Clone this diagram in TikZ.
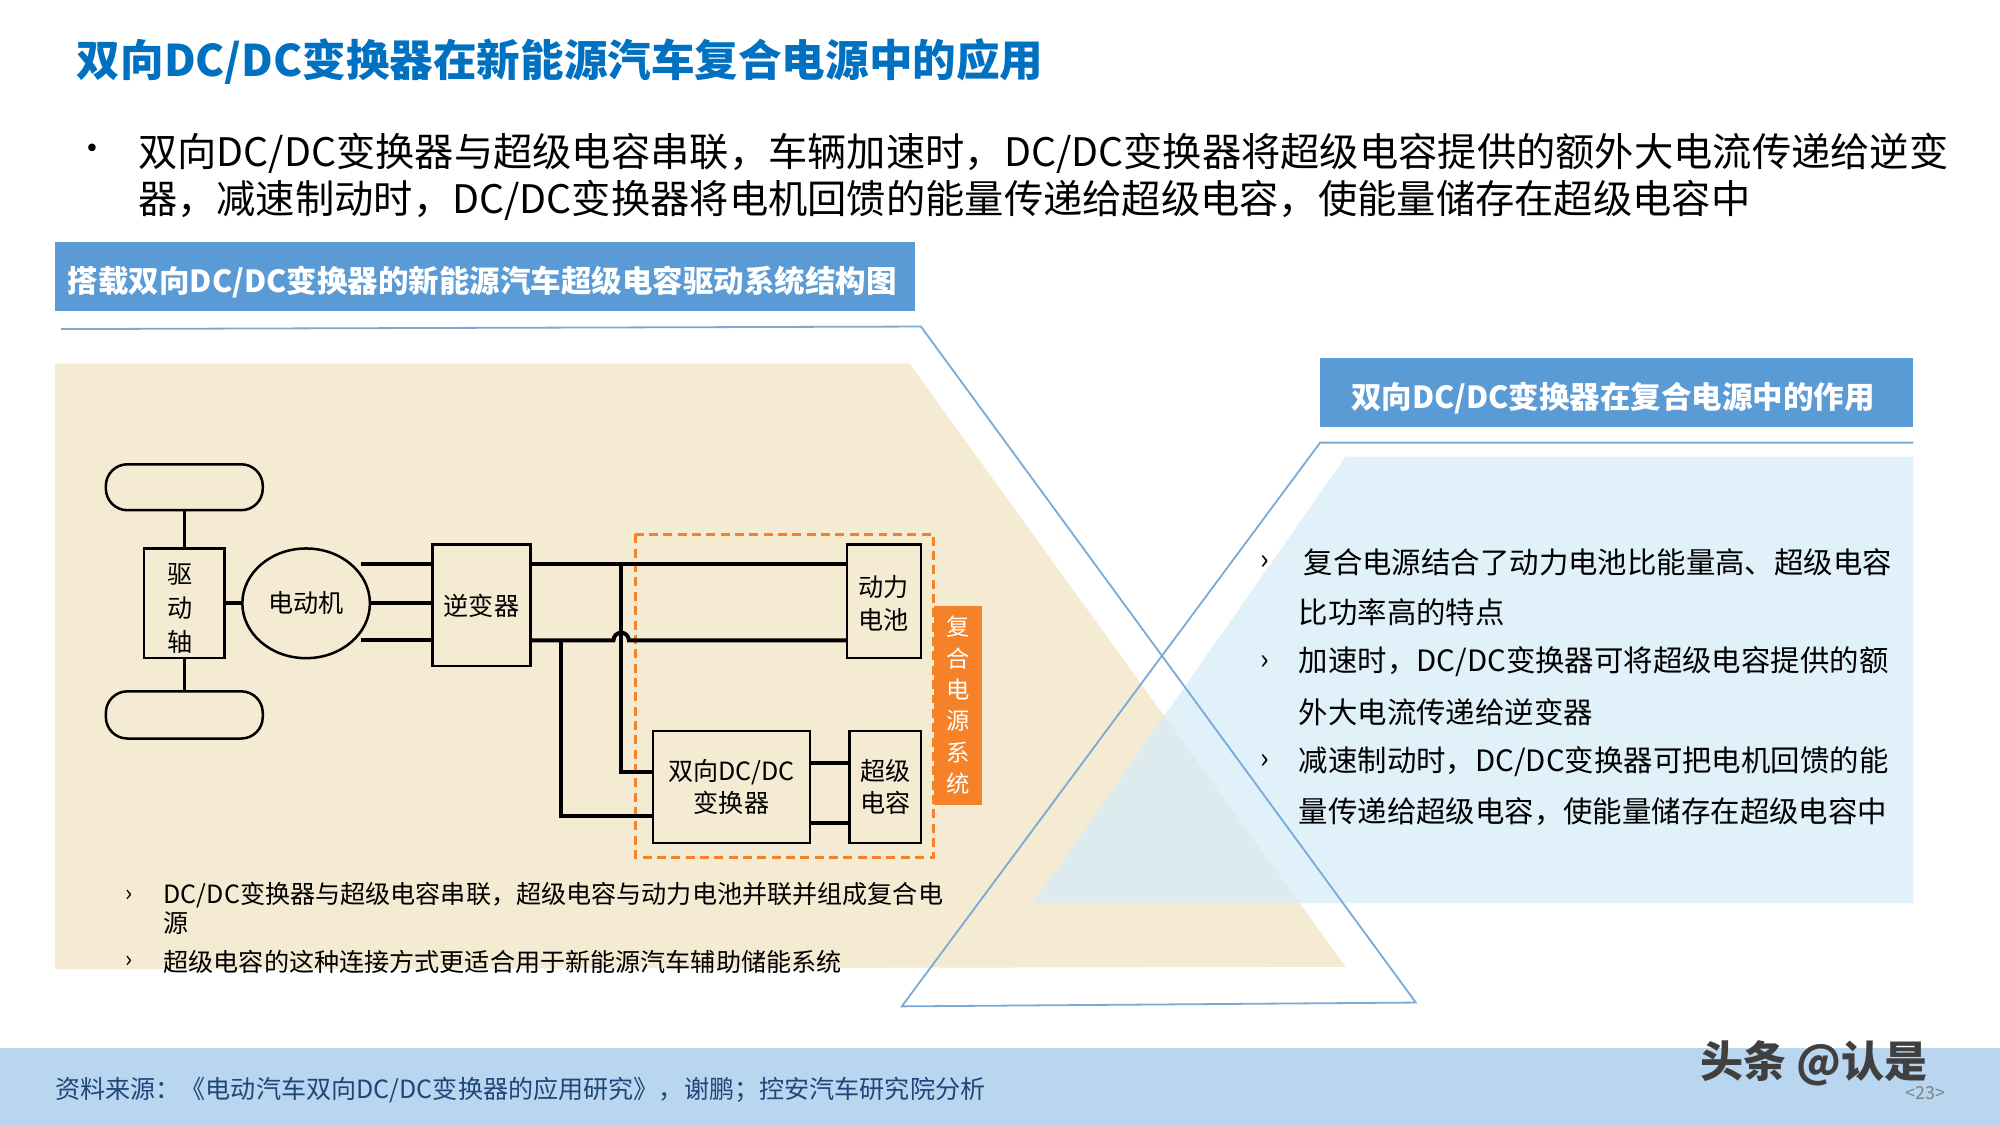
\documentclass[tikz,border=0pt]{standalone}
\usepackage{fontspec}
\setmainfont{Noto Sans CJK SC}
\usetikzlibrary{shapes,positioning}
\definecolor{titleblue}{RGB}{0,112,192}
\definecolor{headblue}{RGB}{91,155,213}
\definecolor{beige}{RGB}{245,234,210}
\definecolor{paleblue}{RGB}{214,236,248}
\definecolor{lineblue}{RGB}{120,170,215}
\definecolor{footblue}{RGB}{185,214,240}
\definecolor{orangebox}{RGB}{245,130,40}
\definecolor{foottext}{RGB}{30,70,120}
\tikzset{
  blk/.style={font=\fontsize{14}{18}\selectfont,align=center},
  wire/.style={line width=2.2pt},
  head/.style={text=white,font=\fontsize{17}{20}\selectfont\bfseries,anchor=west,inner sep=0pt}
}
\begin{document}
\begin{tikzpicture}[x=0.025cm,y=-0.025cm]
        \useasboundingbox (0,0) rectangle (1568,882);
        % panels
        \fill[beige] (43,285) -- (713,285) -- (1055,758) -- (43,760) -- cycle;
        \fill[paleblue,fill opacity=0.75] (1055,358) -- (1500,358) -- (1500,708) -- (810,708) -- cycle;
        \draw[lineblue,line width=1pt] (48,258) -- (722,256) -- (1110,786) -- (707,789) -- (1035,347) -- (1500,347);
        \fill[footblue] (0,822) rectangle (1568,882);
        % title
        \node[anchor=west,text=titleblue,font=\fontsize{24.3}{28}\selectfont\bfseries,inner sep=0pt] (title) at (60,48) {双向DC/DC变换器在新能源汽车复合电源中的应用};
        \node[anchor=west,font=\fontsize{20}{24}\selectfont,inner sep=0pt] (dot) at (58,120) {•};
        \node[anchor=north west,font=\fontsize{21.9}{26.5}\selectfont,inner sep=0pt,align=left] (intro) at (108,104)
        {双向DC/DC变换器与超级电容串联，车辆加速时，DC/DC变换器将超级电容提供的额外大电流传递给逆变\\器，减速制动时，DC/DC变换器将电机回馈的能量传递给超级电容，使能量储存在超级电容中};
        % headers
        \fill[headblue] (43,190) rectangle (717,244);
        \node[head] (lefthead) at (53,221) {搭载双向DC/DC变换器的新能源汽车超级电容驱动系统结构图};
        \fill[headblue] (1035,281) rectangle (1500,335);
        \node[head] (righthead) at (1059,312) {双向DC/DC变换器在复合电源中的作用};
        % circuit blocks
        \draw[line width=1.4pt,rounded corners=12pt] (83,364) rectangle (206,400);
        \draw[line width=1.4pt,rounded corners=12pt] (83,542) rectangle (206,579);
        \draw[line width=1.4pt] (113,430) rectangle (176,516);
        \node[blk,font=\fontsize{14}{19}\selectfont] (axle) at (141,477) {驱\\动\\轴};
        \node[ellipse,draw,line width=1.4pt,minimum width=100*0.025cm,minimum height=86*0.025cm,font=\fontsize{14}{17}\selectfont] (motor) at (240,473) {电动机};
        \draw[line width=1.4pt] (339,427) rectangle (416,522);
        \node[blk] (inv) at (377.5,475) {逆变器};
        \draw[line width=1.4pt] (664,427) rectangle (722,516);
        \node[blk] (bat) at (693,473) {动力\\电池};
        \draw[line width=1.4pt] (512,573) rectangle (635,661);
        \node[blk] (dcdc) at (573.5,617) {双向DC/DC\\变换器};
        \draw[line width=1.4pt] (666,573) rectangle (722,661);
        \node[blk] (cap) at (694,617) {超级\\电容};
        \draw[orangebox,line width=1.8pt,dash pattern=on 5pt off 3pt] (498,419) rectangle (732,672);
        \fill[orangebox] (732,475) rectangle (770,631);
        \node[text=white,font=\fontsize{13}{17.5}\selectfont,align=center] (hybrid) at (751,553) {复\\合\\电\\源\\系\\统};
        % wires
        \draw[line width=1.4pt] (144.5,400) -- (144.5,430);
        \draw[line width=1.4pt] (144.5,516) -- (144.5,542);
        \draw[wire] (176,473) -- (190,473);
        \draw[wire] (283,442) -- (339,442);
        \draw[wire] (290,473) -- (339,473);
        \draw[wire] (283,502) -- (339,502);
        \draw[wire] (416,442) -- (664,442);
        \draw[wire] (416,502) -- (481,502) arc (180:360:6) -- (664,502);
        \draw[wire] (487,442) -- (487,605) -- (512,605);
        \draw[wire] (440,502) -- (440,640) -- (512,640);
        \draw[wire] (635,598) -- (666,598);
        \draw[wire] (635,645) -- (666,645);
        % left notes
        \foreach \yy/\tt in {702/{DC/DC变换器与超级电容串联，超级电容与动力电池并联并组成复合电},724/{源},754/{超级电容的这种连接方式更适合用于新能源汽车辅助储能系统}}
          \node[anchor=west,font=\fontsize{14}{16}\selectfont,inner sep=0pt] at (128,\yy) {\tt};
        \node[anchor=west,font=\fontsize{13}{15}\selectfont,inner sep=0pt] (ln1) at (98,702) {›};
        \node[anchor=west,font=\fontsize{13}{15}\selectfont,inner sep=0pt] (ln2) at (98,754) {›};
        % right notes
        \foreach \yy/\tt in {441/{\,复合电源结合了动力电池比能量高、超级电容},480/{比功率高的特点},519/{加速时，DC/DC变换器可将超级电容提供的额},558/{外大电流传递给逆变器},597/{减速制动时，DC/DC变换器可把电机回馈的能},636/{量传递给超级电容，使能量储存在超级电容中}}
          \node[anchor=west,font=\fontsize{16.4}{20}\selectfont,inner sep=0pt] at (1018,\yy) {\tt};
        \foreach \yy in {441,519,597}
          \node[anchor=west,font=\fontsize{16}{20}\selectfont,inner sep=0pt] at (988,\yy) {›};
        % footer
        \node[anchor=west,text=foottext,font=\fontsize{14}{16}\selectfont,inner sep=0pt] (source) at (43,855) {资料来源：《电动汽车双向DC/DC变换器的应用研究》，谢鹏；控安汽车研究院分析};
        \node[anchor=west,text=black!75,font=\fontsize{24}{26}\selectfont\bfseries,inner sep=0pt] (mark) at (1333,834) {头条 @认是};
        \node[anchor=west,text=black!50,font=\fontsize{10}{12}\selectfont,inner sep=0pt] (page) at (1494,857) {<23>};
\end{tikzpicture}
\end{document}
